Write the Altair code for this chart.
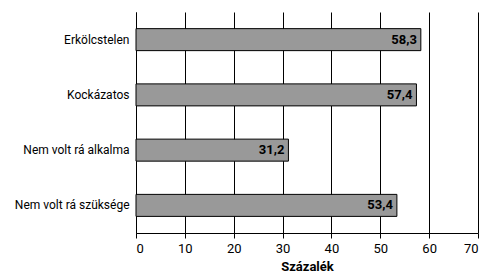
import altair as alt
import pandas as pd

categories = ["Erkölcstelen", "Kockázatos", "Nem volt rá alkalma", "Nem volt rá szüksége"]
values = [58.3, 57.4, 31.2, 53.4]
labels = ["58,3", "57,4", "31,2", "53,4"]

df = pd.DataFrame({"cat": categories, "val": values, "lab": labels})
FONT = "Roboto"

y = alt.Y("cat:N", sort=categories, title=None,
          scale=alt.Scale(paddingInner=0.6, paddingOuter=0.3),
          axis=alt.Axis(ticks=False, labelFontSize=12, labelPadding=7, labelColor="black",
                        domainColor="black", labelFont=FONT, grid=False, labelLimit=200))
x = alt.X("val:Q", title="Százalék",
          scale=alt.Scale(domain=[0, 70]),
          axis=alt.Axis(values=list(range(0, 71, 10)), labelFontSize=13, labelFont=FONT,
                        labelColor="black", titleFont=FONT, titleFontSize=13,
                        titleFontWeight="bold", titleColor="black", titlePadding=5,
                        tickSize=5, tickColor="black", domainColor="black",
                        grid=True, gridColor="black", gridOpacity=1, labelPadding=4))

bars = alt.Chart(df).mark_bar(size=22, fill="#999999", stroke="black", strokeWidth=1).encode(x=x, y=y)
text = alt.Chart(df).mark_text(align="right", dx=-4, fontWeight="bold", fontSize=13,
                               font=FONT, color="black").encode(
    x="val:Q", y=alt.Y("cat:N", sort=categories), text="lab:N")

chart = (bars + text).properties(
    width=342, height=221,
    autosize=alt.AutoSizeParams(type="none"),
    padding={"left": 128, "top": 4, "right": 1, "bottom": 40},
).configure_view(stroke=None)

chart.save("out.html", embed_options={"renderer": "svg", "actions": False})
